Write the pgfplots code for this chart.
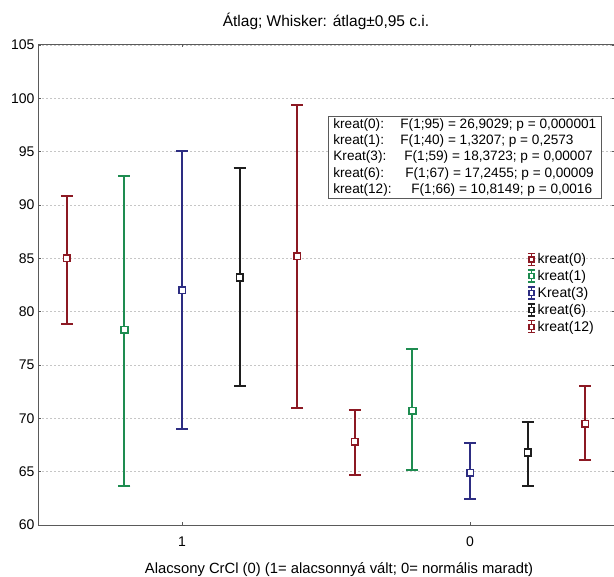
\documentclass[border=0pt]{standalone}
\usepackage{fontspec}
\setmainfont{Liberation Sans}
\usepackage{pgfplots}
\pgfplotsset{compat=1.18}
\definecolor{cRed}{RGB}{140,25,35}
\definecolor{cGreen}{RGB}{30,140,80}
\definecolor{cBlue}{RGB}{45,45,130}
\definecolor{cBlack}{RGB}{30,30,30}
\definecolor{frame}{RGB}{90,90,90}

\begin{document}
\begin{tikzpicture}
\path[use as bounding box] (-38bp,-52bp) rectangle (576bp,525bp);
\begin{axis}[
  at={(0,0)}, anchor=south west,
  scale only axis, width=576bp, height=480bp,
  xmin=-0.5, xmax=1.5, ymin=60, ymax=105,
  xtick={0,1}, xticklabels={1,0},
  ytick={60,65,...,105},
  ymajorgrids,
  major grid style={gray!45, dash pattern=on 2bp off 2bp, line width=0.8bp},
  axis line style={frame, line width=1bp},
  tick style={frame, line width=0.8bp},
  major tick length=2.5bp,
  /pgf/number format/assume math mode=true,
  font=\fontsize{14bp}{16bp}\selectfont,
  xticklabel style={yshift=-8bp},
  title={Átlag; Whisker: átlag±0,95 c.i.},
  title style={font=\fontsize{15.5bp}{18bp}\selectfont, yshift=6bp},
  xlabel={Alacsony CrCl (0) (1= alacsonnyá vált; 0= normális maradt)},
  xlabel style={font=\fontsize{14.8bp}{17bp}\selectfont, xshift=13bp, yshift=-9bp},
  error bars/y dir=both, error bars/y explicit,
  error bars/error bar style={line width=2bp},
  error bars/error mark options={line width=2bp, mark size=6bp, rotate=90},
  every axis plot/.append style={only marks, mark=square*, mark size=3.3bp,
    mark options={fill=white, line width=1.6bp, solid}},
  legend image code/.code={
    \draw[#1, line width=1.5bp] (0bp,-6bp) -- (0bp,6bp)
      (-3.5bp,-6bp) -- (3.5bp,-6bp) (-3.5bp,6bp) -- (3.5bp,6bp);
    \draw[#1, fill=white, line width=1.4bp] (-2.5bp,-2.5bp) rectangle (2.5bp,2.5bp);
  },
  legend style={at={(axis description cs:0.849,0.570)}, anchor=north west,
    draw=none, fill=none, font=\fontsize{14bp}{16bp}\selectfont,
    row sep=1.2bp, inner sep=0pt,
    /tikz/every even column/.append style={column sep=8bp}},
  legend cell align=left,
]
% kreat(0)
\addplot[cRed] coordinates {
  (-0.4,85.0) += (0,5.8) -= (0,6.2)
  (0.6,67.8) += (0,3.0) -= (0,3.1)};
% kreat(1)
\addplot[cGreen] coordinates {
  (-0.2,78.3) += (0,14.4) -= (0,14.6)
  (0.8,70.7) += (0,5.8) -= (0,5.5)};
% Kreat(3)
\addplot[cBlue] coordinates {
  (0.0,82.0) += (0,13.1) -= (0,13.0)
  (1.0,64.9) += (0,2.8) -= (0,2.5)};
% kreat(6)
\addplot[cBlack] coordinates {
  (0.2,83.2) += (0,10.3) -= (0,10.2)
  (1.2,66.8) += (0,2.9) -= (0,3.1)};
% kreat(12)
\addplot[cRed] coordinates {
  (0.4,85.2) += (0,14.2) -= (0,14.2)
  (1.4,69.5) += (0,3.5) -= (0,3.4)};
\legend{kreat(0), kreat(1), Kreat(3), kreat(6), kreat(12)}

\node[draw=frame, line width=0.8bp, fill=white, anchor=north west, align=left,
  inner xsep=5bp, inner ysep=2bp, font=\fontsize{13.6bp}{16.4bp}\selectfont]
  at (axis cs:0.507,98.35) {%
  \makebox[67bp][l]{kreat(0):}F(1;95) = 26,9029; p = 0,000001\\
  \makebox[67bp][l]{kreat(1):}F(1;40) = 1,3207; p = 0,2573\\
  \makebox[71bp][l]{Kreat(3):}F(1;59) = 18,3723; p = 0,00007\\
  \makebox[72bp][l]{kreat(6):}F(1;67) = 17,2455; p = 0,00009\\
  \makebox[78bp][l]{kreat(12):}F(1;66) = 10,8149; p = 0,0016};
\end{axis}
\end{tikzpicture}
\end{document}
